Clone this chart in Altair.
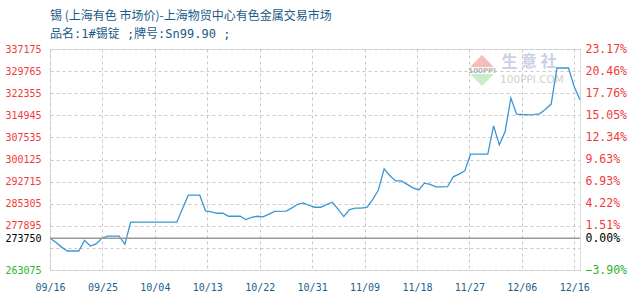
import altair as alt
import pandas as pd

# ---- data ----
dates = ["09/16", "09/17", "09/18", "09/19", "09/21", "09/22", "09/23", "09/24", "09/25",
         "09/26", "09/28", "09/29", "09/30", "10/08", "10/09", "10/10", "10/12", "10/13",
         "10/14", "10/15", "10/16", "10/17", "10/19", "10/20", "10/21", "10/22", "10/23",
         "10/24", "10/25", "10/27", "10/28", "10/29", "10/30", "10/31", "11/01", "11/02",
         "11/03", "11/04", "11/05", "11/06", "11/07", "11/08", "11/09", "11/10", "11/11",
         "11/12", "11/13", "11/14", "11/15", "11/16", "11/17", "11/18", "11/19", "11/20",
         "11/21", "11/22", "11/23", "11/24", "11/25", "11/26", "11/27", "11/28", "12/01",
         "12/02", "12/03", "12/04", "12/05", "12/06", "12/08", "12/09", "12/10", "12/11",
         "12/12", "12/13", "12/15", "12/16", "12/17"]
prices = [273750, 272400, 270750, 269450, 269450, 273050, 271100, 271800, 273700,
          274400, 274400, 271700, 279100, 279100, 283600, 288150, 288150, 282900,
          282600, 282100, 282100, 281100, 281100, 280000, 280700, 281100, 280900,
          281800, 282700, 282800, 283900, 285100, 285600, 284700, 284120, 284120,
          285000, 285800, 283500, 281000, 283300, 283800, 283800, 284100, 286700,
          289900, 296980, 294700, 292950, 292950, 291800, 290600, 289940, 292200,
          291800, 290940, 290940, 291000, 294300, 295200, 296300, 301900, 301900,
          311400, 305000, 309500, 320700, 315300, 315100, 315200, 315450, 317000,
          318700, 330800, 330800, 324500, 320150]

x_labels = ["09/16", "09/25", "10/04", "10/13", "10/22", "10/31", "11/09",
            "11/18", "11/27", "12/06", "12/16"]
base_price = 273750
y_grid = [263075, 270485, 277895, 285305, 292715, 300125, 307535,
          314945, 322355, 329765, 337175]
y_labels = [263075, 273750, 277895, 285305, 292715, 300125, 307535,
            314945, 322355, 329765, 337175]

title_text = "锡 (上海有色 市场价)-上海物贸中心有色金属交易市场"
subtitle_text = "品名:1#锡锭 ;牌号:Sn99.90 ;"
wm_name = "生 意 社"
wm_site = "100PPI.COM"
wm_band = "100PPI"

# ---- build table ----
year = "2021/"
dt = pd.to_datetime([year + d for d in dates], format="%Y/%m/%d")
start = pd.Timestamp(year + x_labels[0])
df = pd.DataFrame({"day": (dt - start).days, "price": prices, "date": dates})

span = (pd.Timestamp(year + x_labels[-1]) - start).days  # 91
step = span / (len(x_labels) - 1)
x_ticks = [round(i * step, 4) for i in range(len(x_labels))]
x_domain = [0, span + 1]
y_domain = [y_grid[0], y_grid[-1]]

label_arr = "[" + ",".join("'%s'" % s for s in x_labels) + "]"
x_label_expr = f"{label_arr}[round(datum.value / {step})]"
y_lab_arr = "[" + ",".join(str(v) for v in y_labels) + "]"

RED = "#f23a3a"
GREEN = "#2db42d"
color_cond = {
    "condition": [
        {"test": f"datum.value < {base_price}", "value": GREEN},
        {"test": f"datum.value == {base_price}", "value": "#000000"},
    ],
    "value": RED,
}

MONO = "DejaVu Sans Mono"

x_enc = alt.X(
    "day:Q",
    scale=alt.Scale(domain=x_domain, nice=False, zero=False),
    axis=alt.Axis(
        values=x_ticks, labelExpr=x_label_expr, title=None, grid=True,
        gridDash=[3, 3], gridColor="#c8c8c8", gridWidth=1, domain=False,
        ticks=False, labelFont=MONO, labelFontSize=10, labelColor="#1d5f8e",
        labelPadding=12, labelOverlap=False, labelFlush=False,
    ),
)

left_axis = alt.Axis(
    values=sorted(set(y_grid + y_labels)),
    labelExpr=f"indexof({y_lab_arr}, datum.value) >= 0 ? format(datum.value, 'd') : ''",
    title=None, grid=True, gridDash=[3, 3], gridColor="#c8c8c8", gridWidth=1,
    domain=False, ticks=False, labelFont=MONO, labelFontSize=10,
    labelColor=color_cond, labelPadding=9, labelOverlap=False, labelFlush=False,
)
right_axis = alt.Axis(
    values=y_labels, orient="right",
    labelExpr=f"format((datum.value - {base_price}) / {base_price}, '.2%')",
    title=None, grid=False, domain=False, ticks=False, labelFont=MONO,
    labelFontSize=11.5, labelColor=color_cond, labelPadding=5,
    labelOverlap=False, labelFlush=False,
)

base = alt.Chart(df)
one = alt.Chart(pd.DataFrame({"k": [0]}))

wm_main = one.mark_text(
    text=wm_name, font="Noto Sans CJK SC", fontSize=16, fontWeight="bold",
    color="#cbd0e4", align="center", baseline="middle",
).encode(x=alt.value(479), y=alt.value(13))
wm_sub = one.mark_text(
    text=wm_site, font="DejaVu Sans", fontSize=10.5, color="#d0d0d0",
    align="center", baseline="middle",
).encode(x=alt.value(482), y=alt.value(31))
wm_up = one.mark_point(
    shape="M-1,0.5L1,0.5L0,-0.5Z", size=560, filled=True, color="#f5bcbc", opacity=1,
).encode(x=alt.value(432), y=alt.value(12))
wm_dn = one.mark_point(
    shape="M-1,-0.5L1,-0.5L0,0.5Z", size=560, filled=True, color="#c9ecc9", opacity=1,
).encode(x=alt.value(432), y=alt.value(31))
wm_bd = one.mark_text(
    text=wm_band, font="DejaVu Sans", fontSize=7, fontWeight="bold", color="#b5b5b5",
    align="center", baseline="middle",
).encode(x=alt.value(432), y=alt.value(21.5))

line = base.mark_line(color="#3a97d6", strokeWidth=1.3, interpolate="linear").encode(
    x=x_enc,
    y=alt.Y("price:Q", scale=alt.Scale(domain=y_domain, nice=False, zero=False), axis=left_axis),
)

base_df = pd.DataFrame({"price": [base_price]})
baseline = alt.Chart(base_df).mark_rule(color="#999999", strokeWidth=1.5).encode(
    y=alt.Y("price:Q", scale=alt.Scale(domain=y_domain, nice=False, zero=False), axis=right_axis),
)

chart = alt.layer(wm_up, wm_dn, wm_bd, wm_main, wm_sub, line, baseline).resolve_scale(
    y="independent"
).properties(
    width=530,
    height=221,
    autosize=alt.AutoSizeParams(type="none"),
    padding={"left": 50, "top": 49, "right": 50, "bottom": 30},
    title=alt.TitleParams(
        text=title_text, subtitle=subtitle_text, anchor="start", frame="group",
        font="Noto Sans CJK SC", fontSize=12, fontWeight="normal", color="#1b5a88",
        subtitleFont="'DejaVu Sans Mono', 'Noto Sans CJK SC'", subtitleFontSize=12,
        subtitleColor="#1b5a88", offset=2, subtitlePadding=6,
    ),
).configure_view(
    stroke="#9a9a9a", strokeWidth=1.5
).configure(background="white")

chart.save("out.html", embed_options={"renderer": "svg", "actions": False})
